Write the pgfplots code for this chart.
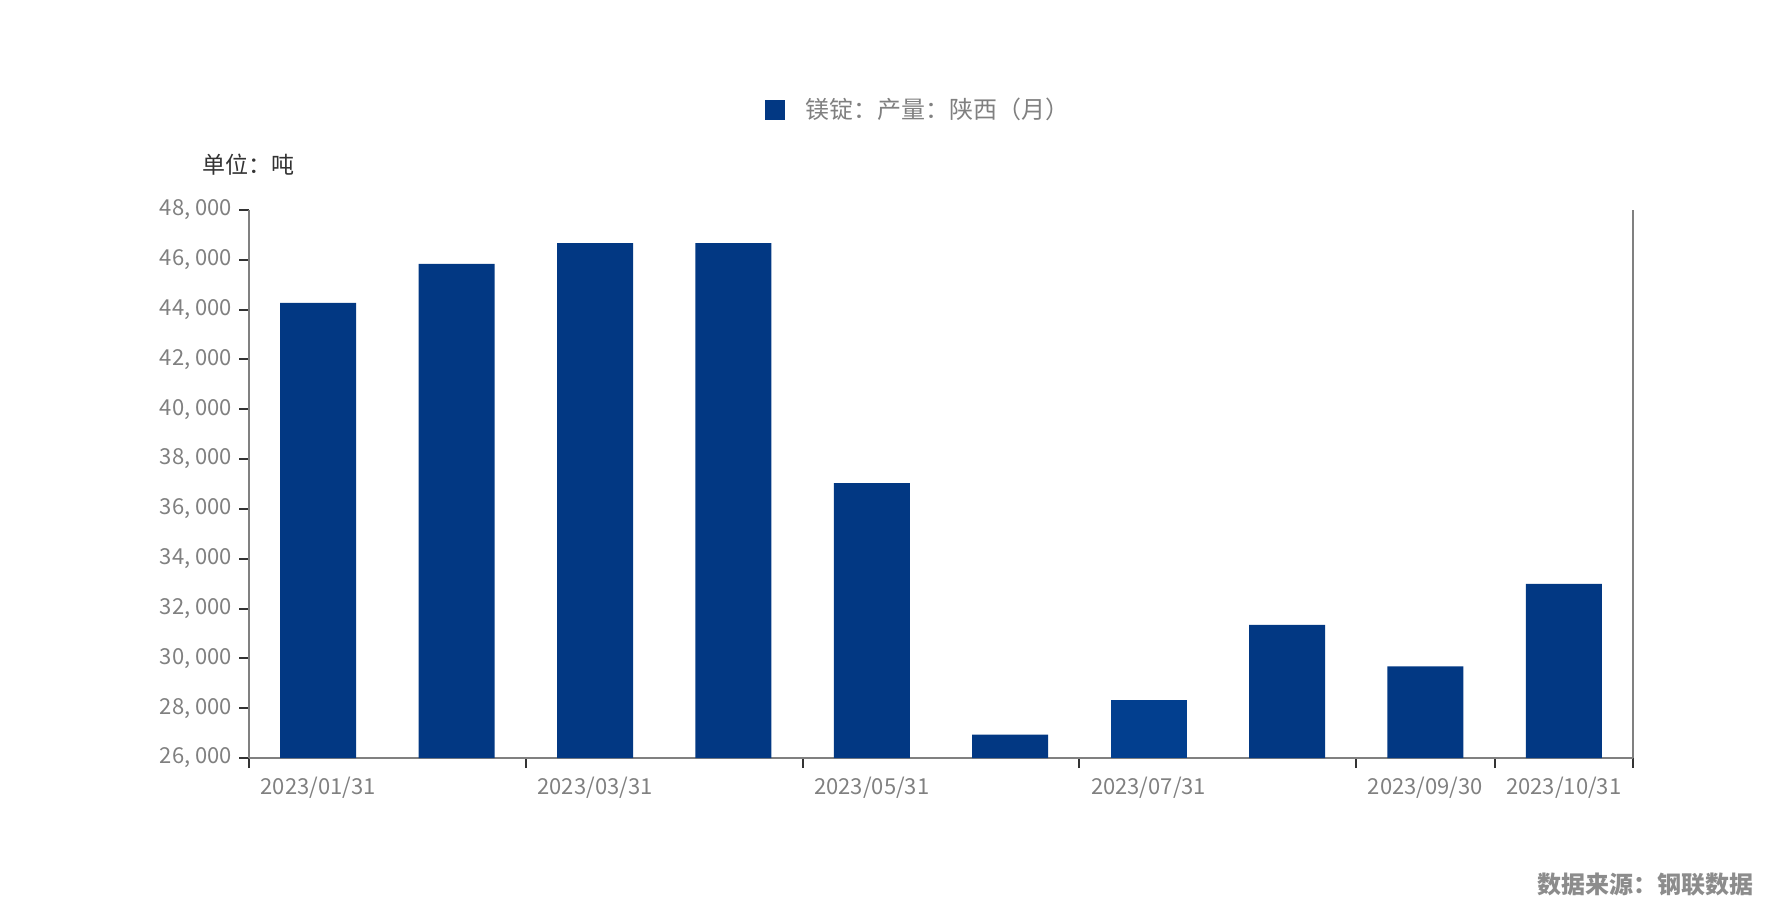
\documentclass[border=0pt]{standalone}
\usepackage{pgfplots}
\pgfplotsset{compat=1.18}
\usepackage{fontspec}
\setmainfont{Noto Sans CJK SC}
\definecolor{barblue}{HTML}{023883}
\definecolor{barblue2}{HTML}{023F8F}
\definecolor{axgray}{HTML}{808080}
\definecolor{tickdark}{HTML}{333333}
\definecolor{unitdark}{HTML}{333333}
\definecolor{srcgray}{HTML}{8C8C8C}
\begin{document}
\begin{tikzpicture}
\path[use as bounding box] (0,0) rectangle (896pt,459pt);
\begin{axis}[
  at={(124.5pt,80pt)}, anchor=south west,
  scale only axis, width=692pt, height=274pt,
  xmin=-0.5, xmax=9.5, ymin=26000, ymax=48000,
  scaled y ticks=false,
  axis x line*=bottom, axis y line*=box,
  axis line style={axgray, line width=1.1pt},
  tick align=outside,
  major tick length=5pt,
  tick style={tickdark, line width=1pt},
  ytick pos=left,
  ytick={26000,28000,30000,32000,34000,36000,38000,40000,42000,44000,46000,48000},
  yticklabels={{26, 000},{28, 000},{30, 000},{32, 000},{34, 000},{36, 000},{38, 000},{40, 000},{42, 000},{44, 000},{46, 000},{48, 000}},
  xtick={-0.5,1.5,3.5,5.5,7.5,8.5,9.5},
  xticklabels={},
  extra x ticks={0,2,4,6,8,9},
  extra x tick labels={2023/01/31,2023/03/31,2023/05/31,2023/07/31,2023/09/30,2023/10/31},
  extra x tick style={tick style={draw=none}, tick label style={yshift=-1pt}},
  tick label style={font=\fontsize{11pt}{13pt}\selectfont, text=axgray},
  /pgf/number format/assume math mode=true,
  ybar, bar width=38pt,
  legend style={at={(0.4841,1.1825)}, anchor=center, draw=none, fill=none,
    font=\fontsize{12pt}{14pt}\selectfont, text=axgray},
  legend image code/.code={\path[draw=none, fill=none] (0pt,-5pt) rectangle (18pt,5pt); \fill[barblue, draw=none] (0pt,-5pt) rectangle (10pt,5pt);},
]
\addplot[fill=barblue, draw=none, bar shift=0pt] coordinates {
  (0,44270) (1,45840) (2,46670) (3,46670) (4,37040) (5,26937) (7,31340) (8,29680) (9,32988)
};
\addlegendentry{镁锭：产量：陕西（月）}
\addplot[fill=barblue2, draw=none, bar shift=0pt, forget plot] coordinates {
  (6,28343)
};
\end{axis}
\node[text=unitdark, font=\fontsize{11.5pt}{13pt}\selectfont] at (124pt,376.5pt) {单位：吨};
\node[text=srcgray, font=\bfseries\fontsize{12pt}{14pt}\selectfont] at (822.5pt,16.5pt) {数据来源：钢联数据};
\end{tikzpicture}
\end{document}
